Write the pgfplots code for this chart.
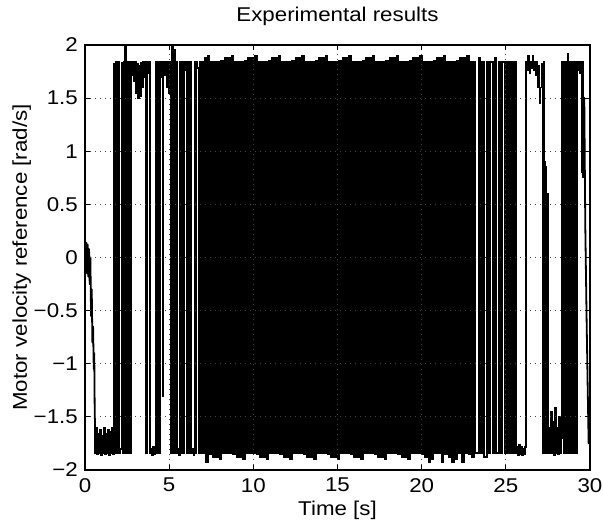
\documentclass[border=0pt]{standalone}
\usepackage{fontspec}
\setmainfont{Liberation Sans}[FakeStretch=1.12]
\usepackage{pgfplots}
\pgfplotsset{compat=1.18}
\newcommand{\lblfont}{\fontsize{20}{22}\selectfont}
\begin{document}
\begin{tikzpicture}
\path[use as bounding box] (-85bp,-56bp) rectangle (518bp,470bp);
\begin{axis}[
  scale only axis,
  width=505bp, height=425bp,
  xmin=0, xmax=30, ymin=-2, ymax=2,
  xtick={0,5,10,15,20,25,30},
  xticklabels={0,5,10,15,20,25,30},
  ytick={-2,-1.5,-1,-0.5,0,0.5,1,1.5,2},
  yticklabels={−2,−1.5,−1,−0.5,0,0.5,1,1.5,2},
  tick align=inside,
  major tick length=5bp,
  tick style={black, line width=0.8bp},
  axis line style={black, line width=1.2bp},
  axis on top,
  grid=major,
  major grid style={black!75, line width=0.8bp, dash pattern=on 0.8bp off 4.2bp},
  xticklabel style={font=\lblfont, anchor=north, inner sep=0pt, yshift=-8bp},
  yticklabel style={font=\lblfont, anchor=east, inner sep=0pt, xshift=-7bp},
  title={Experimental results},
  title style={font=\lblfont, at={(axis description cs:0.5,1.04235)}, anchor=base, inner sep=0pt},
  xlabel={Time [s]},
  xlabel style={font=\lblfont, at={(axis description cs:0.5,-0.1059)}, anchor=base, inner sep=0pt},
  ylabel={Motor velocity reference [rad/s]},
  ylabel style={font=\lblfont, at={(axis description cs:-0.1149,0.5)}, anchor=base, inner sep=0pt},
]
% start: drift from zero to the low state
\addplot[black, line width=1.8bp, line join=round] coordinates {
(0,0.10)(0.04,-0.12)(0.08,0.14)(0.12,-0.15)(0.16,0.12)(0.20,-0.18)(0.24,0.08)(0.28,-0.25)
(0.32,0.00)(0.36,-0.55)(0.40,-0.30)(0.44,-0.80)(0.48,-0.65)(0.52,-1.05)(0.55,-0.90)(0.58,-1.52)
};
% switching body
\addplot[black, line width=1.8bp, const plot] table {
0.58 -1.52
0.60 -1.84
0.66 -1.60
0.72 -1.85
0.78 -1.66
0.84 -1.84
0.90 -1.62
0.96 -1.86
1.02 -1.68
1.08 -1.84
1.14 -1.60
1.20 -1.85
1.26 -1.66
1.32 -1.84
1.38 -1.62
1.44 -1.86
1.50 -1.64
1.56 -1.84
1.62 -1.60
1.68 -1.85
1.72 1.82
1.78 -1.84
1.84 1.84
1.90 -1.84
1.96 1.84
2.02 -1.84
2.10 -1.80
2.18 1.83
2.24 -1.84
2.30 1.84
2.34 -1.84
2.38 1.98
2.44 -1.84
2.50 1.84
2.56 -1.84
2.62 1.84
2.68 -1.84
2.74 1.84
2.80 1.72
2.86 1.84
2.92 1.66
2.98 1.84
3.04 1.55
3.10 1.82
3.16 1.50
3.22 1.80
3.28 1.52
3.34 1.83
3.40 1.60
3.46 1.84
3.52 1.70
3.56 1.84
3.62 -1.84
3.68 1.84
3.74 1.74
3.80 1.84
3.86 -1.84
3.92 -1.80
3.98 -1.86
4.04 -1.78
4.10 -1.85
4.16 -1.80
4.22 1.84
4.28 -1.84
4.34 1.84
4.40 -1.84
4.46 1.84
4.52 1.70
4.58 1.84
4.62 -1.30
4.66 1.84
4.72 1.72
4.78 1.84
4.84 1.60
4.90 1.84
4.96 1.55
5.02 1.84
5.08 1.70
5.12 -1.84
5.18 1.98
5.24 -1.84
5.30 1.95
5.36 -1.84
5.42 1.84
5.48 -1.84
5.54 -1.80
5.60 -1.86
5.66 1.84
5.72 -1.84
5.78 1.84
5.84 -1.84
5.90 1.84
5.96 1.76
6.02 1.84
6.08 -1.84
6.14 1.84
6.20 -1.84
6.26 1.84
6.32 -1.84
6.38 -1.80
6.44 -1.86
6.50 1.84
6.56 -1.84
6.62 1.84
6.68 1.78
6.76 -1.84
6.82 1.84
6.88 -1.84
6.94 1.84
7.0 -1.84
7.1 1.88
7.2 -1.93
7.3 1.90
7.4 -1.85
7.5 1.84
7.6 -1.88
7.7 1.84
7.8 -1.88
7.9 1.84
8.0 -1.90
8.1 1.85
8.2 -1.84
8.3 1.88
8.4 -1.84
8.5 1.88
8.6 -1.84
8.7 1.90
8.8 -1.85
8.9 1.84
9.0 -1.88
9.1 1.84
9.2 -1.88
9.3 1.84
9.4 -1.90
9.5 1.85
9.6 -1.84
9.7 1.88
9.8 -1.84
9.9 1.88
10.0 -1.84
10.1 1.90
10.2 -1.85
10.3 1.84
10.4 -1.88
10.5 1.84
10.6 -1.88
10.7 1.84
10.8 -1.90
10.9 1.85
11.0 -1.84
11.1 1.88
11.2 -1.84
11.3 1.88
11.4 -1.84
11.5 1.90
11.6 -1.85
11.7 1.84
11.8 -1.88
11.9 1.84
12.0 -1.88
12.1 1.84
12.2 -1.90
12.3 1.85
12.4 -1.84
12.5 1.88
12.6 -1.84
12.7 1.88
12.8 -1.84
12.9 1.90
13.0 -1.85
13.1 1.84
13.2 -1.88
13.3 1.84
13.4 -1.88
13.5 1.84
13.6 -1.90
13.7 1.85
13.8 -1.84
13.9 1.88
14.0 -1.84
14.1 1.88
14.2 -1.84
14.3 1.90
14.4 -1.85
14.5 1.84
14.6 -1.88
14.7 1.84
14.8 -1.88
14.9 1.84
15.0 -1.90
15.1 1.85
15.2 -1.84
15.3 1.88
15.4 -1.84
15.5 1.88
15.6 -1.84
15.7 1.90
15.8 -1.85
15.9 1.84
16.0 -1.88
16.1 1.84
16.2 -1.88
16.3 1.84
16.4 -1.90
16.5 1.85
16.6 -1.84
16.7 1.88
16.8 -1.84
16.9 1.88
17.0 -1.84
17.1 1.90
17.2 -1.85
17.3 1.84
17.4 -1.88
17.5 1.84
17.6 -1.88
17.7 1.84
17.8 -1.90
17.9 1.85
18.0 -1.84
18.1 1.88
18.2 -1.84
18.3 1.88
18.4 -1.84
18.5 1.90
18.6 -1.85
18.7 1.84
18.8 -1.88
18.9 1.84
19.0 -1.88
19.1 1.84
19.2 -1.90
19.3 1.85
19.4 -1.84
19.5 1.88
19.6 -1.84
19.7 1.88
19.8 -1.84
19.9 1.90
20.0 -1.85
20.1 1.84
20.2 -1.88
20.3 1.84
20.4 -1.93
20.5 1.84
20.6 -1.90
20.7 1.85
20.8 -1.84
20.9 1.88
21.0 -1.84
21.1 1.88
21.2 -1.93
21.3 1.90
21.4 -1.85
21.5 1.84
21.6 -1.88
21.7 1.84
21.8 -1.93
21.9 1.84
22.0 -1.90
22.1 1.85
22.2 -1.84
22.3 1.88
22.4 -1.93
22.5 1.88
22.6 -1.84
22.7 1.90
22.8 -1.85
22.9 1.84
23.0 -1.88
23.1 1.84
23.2 -1.84
23.38 1.88
23.48 -1.84
23.58 1.84
23.68 -1.88
23.86 1.84
23.96 -1.84
24.06 1.84
24.24 -1.84
24.34 1.88
24.44 -1.84
24.60 1.84
24.70 -1.84
24.80 1.84
24.96 -1.84
25.06 1.84
25.14 -1.84
25.22 1.84
25.30 -1.84
25.38 1.84
25.46 -1.84
25.54 1.84
25.62 -1.84
25.68 -1.78
25.74 -1.86
25.80 -1.76
25.86 -1.85
25.92 -1.78
25.98 -1.86
26.04 -1.80
26.10 -1.85
26.16 -1.78
26.22 1.84
26.28 1.76
26.34 1.90
26.40 1.74
26.46 1.84
26.52 1.78
26.58 1.90
26.64 1.76
26.70 1.84
26.76 1.72
26.82 1.84
26.88 1.60
26.94 1.80
27.00 1.45
27.06 1.60
27.12 1.82
27.18 -1.84
27.24 1.84
27.30 0.90
27.34 -1.84
27.38 0.85
27.42 -1.84
27.46 0.60
27.50 -1.84
27.56 -1.60
27.62 -1.84
27.68 -1.45
27.74 -1.84
27.80 -1.55
27.86 -1.86
27.92 -1.42
27.98 -1.84
28.04 -1.60
28.10 -1.85
28.16 -1.50
28.22 -1.84
28.28 -1.70
28.34 1.84
28.42 -1.84
28.50 1.84
28.56 -1.84
28.66 1.92
28.72 -1.84
28.80 1.84
28.88 -1.84
28.96 1.84
29.02 -1.84
29.10 1.84
29.16 -1.84
29.22 1.84
29.28 1.76
29.34 1.84
29.40 1.74
29.46 1.84
29.52 0.80
29.56 1.84
29.60 0.76
29.64 1.50
29.66 1.50
};
% end: slow ramp down
\addplot[black, line width=1.8bp, line join=round] coordinates {
(29.66,1.50)(29.72,0.30)(29.80,-0.60)(29.86,-1.20)(29.92,-1.75)(29.96,-1.50)(30,-1.60)
};
\end{axis}
\end{tikzpicture}
\end{document}
